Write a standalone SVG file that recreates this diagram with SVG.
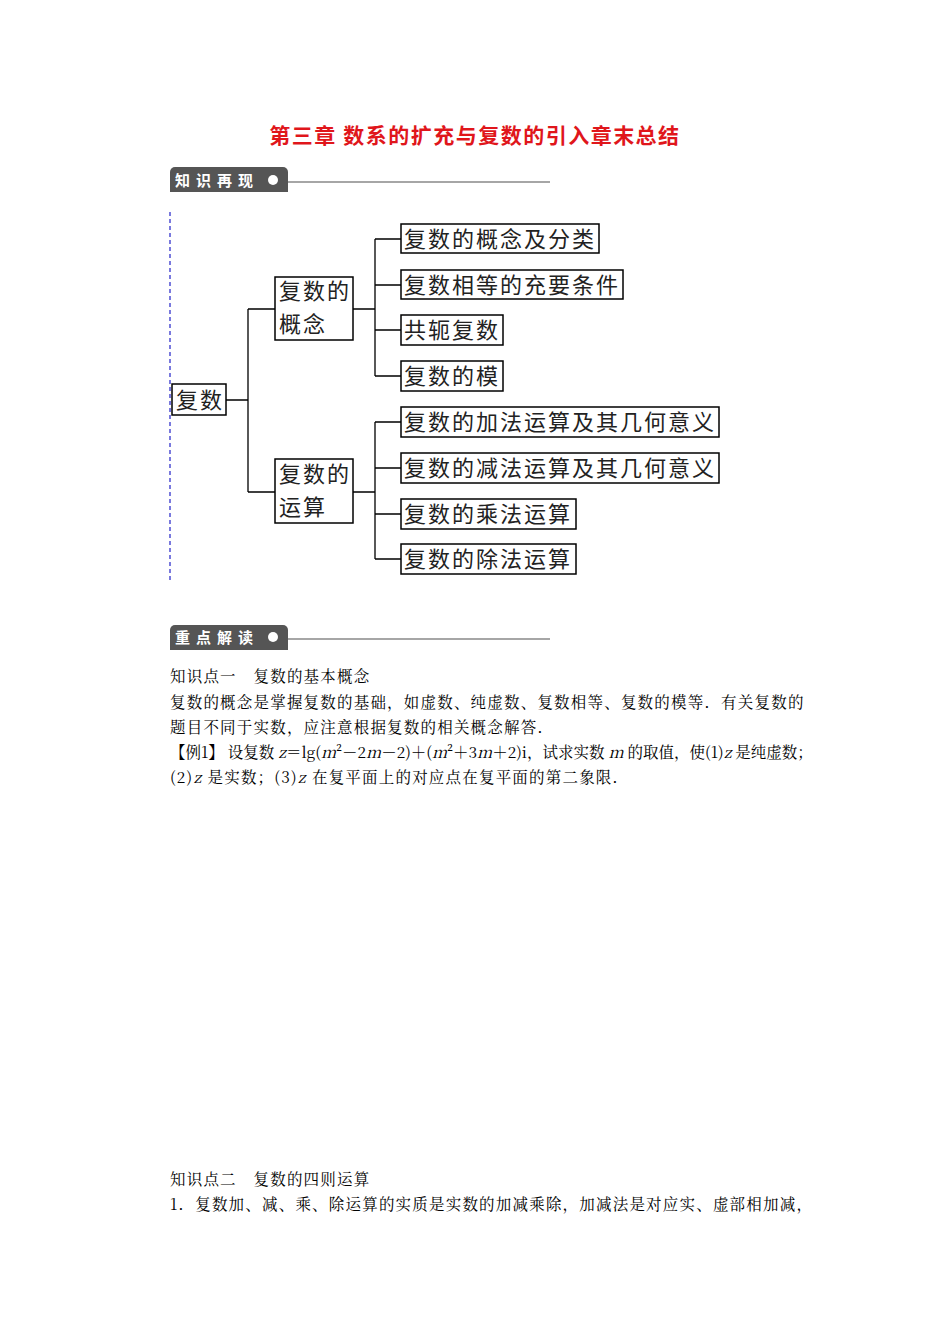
<svg xmlns="http://www.w3.org/2000/svg" width="950" height="1344" viewBox="0 0 950 1344">
<style>
.b{fill:#fff;stroke:#000;stroke-width:1.5}
.n{font-family:"Noto Sans CJK SC",sans-serif;font-size:22px;letter-spacing:2px;fill:#222}
.c{fill:none;stroke:#000;stroke-width:1.3}
.tab{fill:#555}
.tabt{font-family:"Noto Sans CJK SC",sans-serif;font-size:15px;font-weight:bold;fill:#fff;letter-spacing:6px}
.p{font-family:"Noto Serif CJK SC","Noto Sans CJK SC",serif;font-size:15.5px;letter-spacing:1.2px;fill:#000}
</style>
<rect width="950" height="1344" fill="#fff"/>
<text x="475" y="143" text-anchor="middle" font-family="Noto Sans CJK SC,sans-serif" font-size="21" letter-spacing="1.5" font-weight="bold" fill="#e0161b">第三章  数系的扩充与复数的引入章末总结</text>
<g id="tab1"><path d="M170 192V172a5 5 0 0 1 5-5h108a5 5 0 0 1 5 5v20z" class="tab"/><text x="175" y="186" class="tabt">知识再现</text><circle cx="273" cy="180" r="5" fill="#fff"/><line x1="288" y1="182" x2="550" y2="182" stroke="#888" stroke-width="1.5"/></g>
<line x1="170" y1="212" x2="170" y2="580" stroke="#33c" stroke-width="1.3" stroke-dasharray="4,3"/>
<g id="connectors">
<path class="c" d="M226 400H248M248 309V492M248 309H275M248 492H275"/>
<path class="c" d="M353 309H375M375 239V376M375 239H401M375 285H401M375 330H401M375 376H401"/>
<path class="c" d="M353 492H375M375 422V559M375 422H401M375 468H401M375 514H401M375 559H401"/>
</g>
<g id="root"><rect class="b" x="172" y="384" width="54" height="31"/><text class="n" x="176" y="408">复数</text></g>
<g id="concept"><rect class="b" x="275" y="277" width="78" height="63"/><text class="n" x="279" y="299">复数的</text><text class="n" x="279" y="332">概念</text></g>
<g id="oper"><rect class="b" x="275" y="459" width="78" height="64"/><text class="n" x="279" y="482">复数的</text><text class="n" x="279" y="515">运算</text></g>
<g id="l1"><rect class="b" x="401" y="224" width="198" height="29"/><text class="n" x="404" y="247">复数的概念及分类</text></g>
<g id="l2"><rect class="b" x="401" y="270" width="222" height="29"/><text class="n" x="404" y="293">复数相等的充要条件</text></g>
<g id="l3"><rect class="b" x="401" y="315" width="102" height="30"/><text class="n" x="404" y="338">共轭复数</text></g>
<g id="l4"><rect class="b" x="401" y="361" width="102" height="30"/><text class="n" x="404" y="384">复数的模</text></g>
<g id="l5"><rect class="b" x="401" y="407" width="318" height="30"/><text class="n" x="404" y="430">复数的加法运算及其几何意义</text></g>
<g id="l6"><rect class="b" x="401" y="453" width="318" height="30"/><text class="n" x="404" y="476">复数的减法运算及其几何意义</text></g>
<g id="l7"><rect class="b" x="401" y="499" width="175" height="30"/><text class="n" x="404" y="522">复数的乘法运算</text></g>
<g id="l8"><rect class="b" x="401" y="544" width="175" height="30"/><text class="n" x="404" y="567">复数的除法运算</text></g>
<g id="tab2"><path d="M170 650V630a5 5 0 0 1 5-5h108a5 5 0 0 1 5 5v20z" class="tab"/><text x="175" y="643" class="tabt">重点解读</text><circle cx="273" cy="637" r="5" fill="#fff"/><line x1="288" y1="639" x2="550" y2="639" stroke="#888" stroke-width="1.5"/></g>
<text class="p" x="170" y="682">知识点一　复数的基本概念</text>
<text class="p" x="170" y="708">复数的概念是掌握复数的基础，如虚数、纯虚数、复数相等、复数的模等．有关复数的</text>
<text class="p" x="170" y="733">题目不同于实数，应注意根据复数的相关概念解答．</text>
<text class="p" x="170" y="758" style="letter-spacing:0">【例1】 设复数 <tspan font-style="italic">z</tspan>＝lg(<tspan font-style="italic">m</tspan>²－2<tspan font-style="italic">m</tspan>－2)＋(<tspan font-style="italic">m</tspan>²＋3<tspan font-style="italic">m</tspan>＋2)i，试求实数 <tspan font-style="italic">m</tspan> 的取值，使(1)<tspan font-style="italic">z</tspan> 是纯虚数；</text>
<text class="p" x="170" y="783">(2)<tspan font-style="italic">z</tspan> 是实数；(3)<tspan font-style="italic">z</tspan> 在复平面上的对应点在复平面的第二象限．</text>
<text class="p" x="170" y="1185">知识点二　复数的四则运算</text>
<text class="p" x="170" y="1210">1．复数加、减、乘、除运算的实质是实数的加减乘除，加减法是对应实、虚部相加减，</text>
</svg>
